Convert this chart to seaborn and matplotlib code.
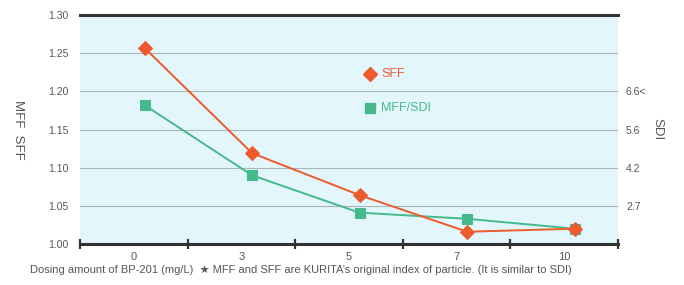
import pandas as pd
import matplotlib.pyplot as plt
import seaborn as sns

# Data
dosing = ["0", "3", "5", "7", "10"]
sff = [1.257, 1.119, 1.064, 1.016, 1.020]
mff_sdi = [1.182, 1.090, 1.041, 1.033, 1.020]
left_ticks = [1.00, 1.05, 1.10, 1.15, 1.20, 1.25, 1.30]
sdi_ticks = [1.05, 1.10, 1.15, 1.20]
sdi_labels = ["2.7", "4.2", "5.6", "6.6<"]

df = pd.DataFrame({"dosing": dosing, "SFF": sff, "MFF/SDI": mff_sdi})

sns.set_style("white")
plt.rcParams["font.family"] = ["Liberation Sans", "DejaVu Sans"]

sff_color = "#ee5a2c"
mff_color = "#45b98c"
text_color = "#555555"

fig = plt.figure(figsize=(6.84, 2.85), dpi=100)
ax = fig.add_axes([0.117, 0.144, 0.786, 0.803])
ax.set_facecolor("#e2f6fc")

# Grid lines
for y in left_ticks[1:-1]:
    ax.axhline(y, color="#a9b4b8", lw=0.8, zorder=0)

sns.lineplot(data=df, x="dosing", y="SFF", ax=ax, color=sff_color, lw=1.4,
             marker="D", markersize=7, markeredgecolor=sff_color, zorder=3)
sns.lineplot(data=df, x="dosing", y="MFF/SDI", ax=ax, color=mff_color, lw=1.4,
             marker="s", markersize=6.5, markeredgecolor=mff_color, zorder=2)

ax.set_xlim(-0.6, len(dosing) - 0.6)
ax.set_ylim(1.00, 1.30)
ax.set_yticks(left_ticks)
ax.set_yticklabels([f"{v:.2f}" for v in left_ticks])
ax.tick_params(axis="y", length=0, labelsize=7.5, colors=text_color, pad=8)

# x axis: labels centred between the tick marks, points sit a little to the right
ax.set_xticks([i - 0.1 for i in range(len(dosing))])
ax.set_xticklabels(dosing)
ax.set_xticks([i - 0.6 for i in range(len(dosing) + 1)], minor=True)
ax.tick_params(axis="x", which="major", bottom=True, length=0, labelsize=8,
               colors=text_color, pad=6)
ax.tick_params(axis="x", which="minor", bottom=True, length=7, width=1.6,
               color="#333333", direction="inout")
ax.set_xlabel("")
ax.set_ylabel("MFF  SFF", rotation=270, fontsize=9.5, color=text_color, labelpad=26)

for side in ["left", "right"]:
    ax.spines[side].set_visible(False)
for side in ["top", "bottom"]:
    ax.spines[side].set_color("#333333")
    ax.spines[side].set_linewidth(2.2)

# Legend labels inside the plot
ax.plot([2.1], [1.223], marker="D", color=sff_color, markersize=7, ls="none")
ax.text(2.2, 1.223, "SFF", color=sff_color, fontsize=9, va="center")
ax.plot([2.1], [1.178], marker="s", color=mff_color, markersize=6.5, ls="none")
ax.text(2.2, 1.178, "MFF/SDI", color=mff_color, fontsize=9, va="center")

# Right axis for SDI
ax2 = ax.twinx()
ax2.set_ylim(ax.get_ylim())
ax2.set_yticks(sdi_ticks)
ax2.set_yticklabels(sdi_labels)
ax2.tick_params(axis="y", length=0, labelsize=7.5, colors=text_color, pad=6)
ax2.set_ylabel("SDI", rotation=270, fontsize=9.5, color=text_color, labelpad=12)
for side in ax2.spines:
    ax2.spines[side].set_visible(False)

fig.text(0.044, 0.052,
         "Dosing amount of BP-201 (mg/L)  \u2605 MFF and SFF are KURITA\u2019s original index of particle. (It is similar to SDI)",
         fontsize=8, color=text_color, va="center")

plt.savefig("out.png", dpi=100)
plt.close()
